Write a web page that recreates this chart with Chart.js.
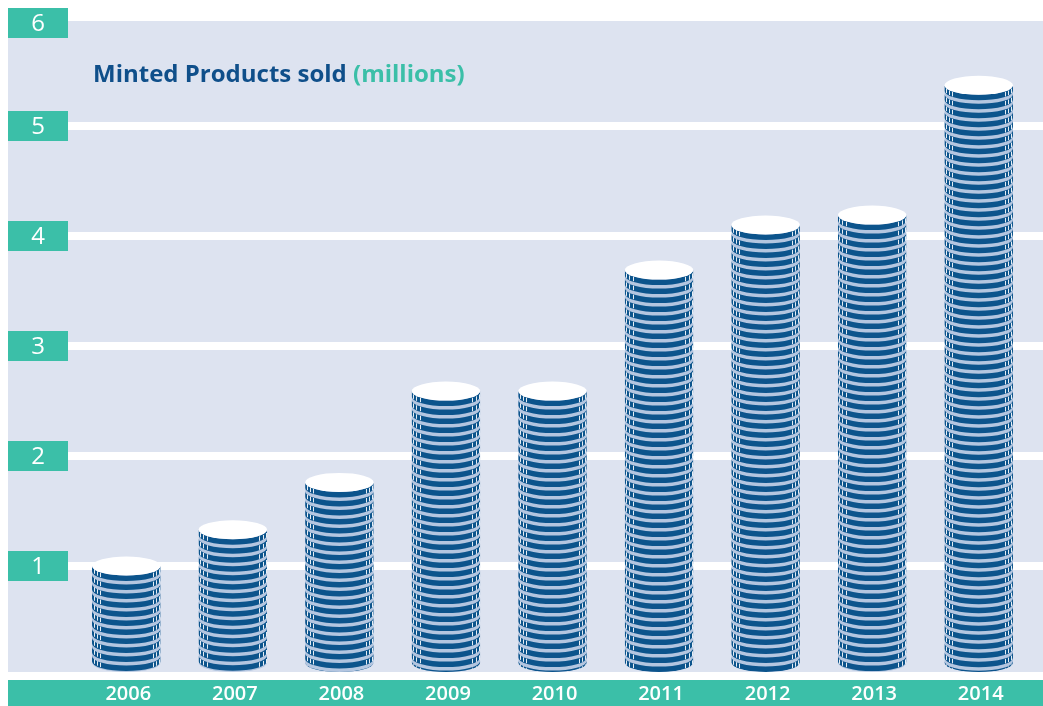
<!DOCTYPE html>
<html>
<head>
<meta charset="utf-8">
<title>Minted Products sold</title>
<script src="https://cdn.jsdelivr.net/npm/chart.js@4/dist/chart.umd.min.js"></script>
<style>
  html, body { margin: 0; padding: 0; background: #ffffff; }
  #wrap { width: 1043px; height: 706px; }
  canvas { display: block; }
</style>
</head>
<body>
<div id="wrap"><canvas id="chart" width="1043" height="706"></canvas></div>
<script>
// Minted products sold per year, in millions
const years = ['2006', '2007', '2008', '2009', '2010', '2011', '2012', '2013', '2014'];
const productsSold = [1.0, 1.33, 1.76, 2.59, 2.59, 3.69, 4.10, 4.19, 5.37];
const yTickValues = [1, 2, 3, 4, 5, 6];
const titleMain = 'Minted Products sold';
const titleUnit = '(millions)';

const COLORS = {
  panel: '#dde3f0',
  teal: '#3bbfa8',
  navy: '#0f4f8a',
  coinEdge: '#0c548c',
  coinGap: '#b4c6e0',
  coinTop: '#ffffff',
  grid: '#ffffff'
};
const FONT = '"Open Sans", "Noto Sans", sans-serif';

// Background panel, white grid bands, tick boxes, title and year strip
const framePlugin = {
  id: 'frame',
  beforeDatasetsDraw(chart) {
    const { ctx, width } = chart;
    const y = chart.scales.y;
    const x = chart.scales.x;
    ctx.save();
    ctx.fillStyle = COLORS.panel;
    ctx.fillRect(8, 21, width - 8, 651);
    ctx.fillStyle = COLORS.teal;
    ctx.fillRect(8, 680, width - 8, 26);

    yTickValues.forEach(v => {
      const py = y.getPixelForValue(v);
      ctx.fillStyle = COLORS.grid;
      ctx.fillRect(68, py - 4, width - 68, 8);
      const boxTop = Math.max(8, py - 15);
      ctx.fillStyle = COLORS.teal;
      ctx.fillRect(8, boxTop, 60, 30);
      ctx.fillStyle = '#ffffff';
      ctx.font = '24px ' + FONT;
      ctx.textAlign = 'center';
      ctx.textBaseline = 'middle';
      ctx.fillText(String(v), 38, boxTop + 16);
    });

    // year labels on the teal strip
    ctx.fillStyle = '#ffffff';
    ctx.font = '600 20px ' + FONT;
    ctx.textAlign = 'center';
    ctx.textBaseline = 'middle';
    years.forEach((yr, i) => {
      ctx.fillText(yr, x.getPixelForValue(i) + 2, 694);
    });

    // two-tone title
    ctx.textAlign = 'left';
    ctx.textBaseline = 'alphabetic';
    ctx.font = 'bold 24px ' + FONT;
    ctx.fillStyle = COLORS.navy;
    ctx.fillText(titleMain + ' ', 93, 82);
    const w = ctx.measureText(titleMain + ' ').width;
    ctx.fillStyle = COLORS.teal;
    ctx.fillText(titleUnit, 93 + w, 82);
    ctx.restore();
  }
};

// Each bar is painted as a stack of coins
function drawCoinStack(ctx, cx, yTop, rx, bottom) {
  const ry = 9.5, pitch = 9, edge = 5.5;
  const yb = bottom - ry;
  ctx.save();
  ctx.beginPath();
  ctx.moveTo(cx - rx, yTop);
  ctx.lineTo(cx + rx, yTop);
  ctx.lineTo(cx + rx, yb);
  ctx.ellipse(cx, yb, rx, ry, 0, 0, Math.PI, false);
  ctx.closePath();
  ctx.clip();
  ctx.fillStyle = COLORS.coinGap;
  ctx.fillRect(cx - rx, yTop, rx * 2, bottom - yTop);

  const notches = [1.5, 4.5, 8];
  for (let c = yTop; c < bottom; c += pitch) {
    ctx.beginPath();
    ctx.ellipse(cx, c, rx, ry, 0, 0, Math.PI, false);
    ctx.ellipse(cx, c + edge, rx, ry, 0, Math.PI, 0, true);
    ctx.closePath();
    ctx.fillStyle = COLORS.coinEdge;
    ctx.fill();
    // milled rim
    ctx.fillStyle = 'rgba(255,255,255,0.9)';
    notches.forEach(d => {
      [cx - rx + d, cx + rx - d].forEach(xx => {
        const k = (xx - cx) / rx;
        const ya = c + ry * Math.sqrt(Math.max(0, 1 - k * k));
        ctx.fillRect(Math.round(xx), ya + 0.5, 1, edge - 1);
      });
    });
  }
  ctx.restore();

  ctx.beginPath();
  ctx.ellipse(cx, yTop, rx, ry, 0, 0, Math.PI * 2);
  ctx.fillStyle = COLORS.coinTop;
  ctx.fill();
}

const coinPlugin = {
  id: 'coins',
  afterDatasetsDraw(chart) {
    const { ctx } = chart;
    const meta = chart.getDatasetMeta(0);
    meta.data.forEach(bar => {
      const p = bar.getProps(['x', 'y', 'width'], true);
      drawCoinStack(ctx, p.x, p.y, p.width / 2, 672);
    });
  }
};

new Chart(document.getElementById('chart'), {
  type: 'bar',
  data: {
    labels: years,
    datasets: [{
      label: titleMain,
      data: productsSold,
      backgroundColor: 'rgba(0,0,0,0)',
      borderWidth: 0,
      barPercentage: 0.643,
      categoryPercentage: 1
    }]
  },
  options: {
    responsive: false,
    devicePixelRatio: 1,
    animation: false,
    layout: { padding: { left: 73, right: 11, top: 16, bottom: 30 } },
    plugins: { legend: { display: false }, tooltip: { enabled: false }, title: { display: false } },
    scales: {
      x: { display: false },
      y: { display: false, min: 0, max: 6 }
    }
  },
  plugins: [framePlugin, coinPlugin]
});
</script>
</body>
</html>
